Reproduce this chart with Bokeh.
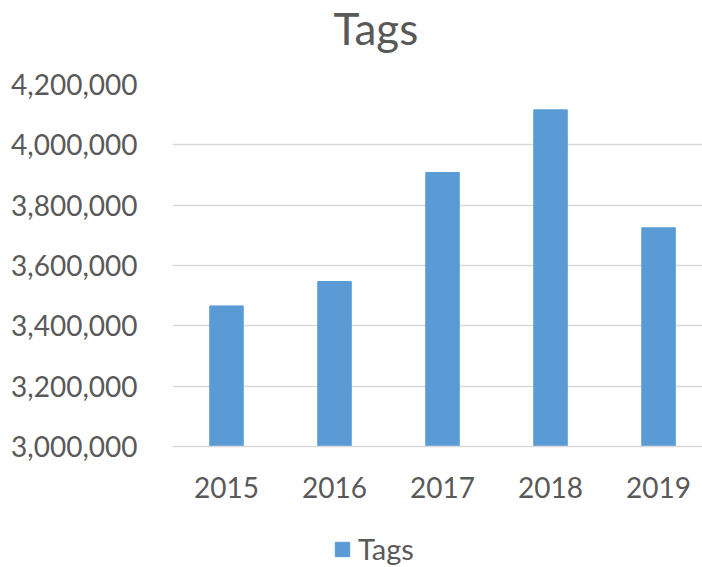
from bokeh.plotting import figure
from bokeh.layouts import column
from bokeh.models import (Range1d, FixedTicker, NumeralTickFormatter, Legend,
                          LegendItem, ColumnDataSource, Label)
from bokeh.embed import file_html
from bokeh.resources import INLINE

# ---- data ----
years = [2015, 2016, 2017, 2018, 2019]
year_labels = ["2015", "2016", "2017", "2018", "2019"]
tags = [3466000, 3547000, 3908000, 4116000, 3725000]
y_ticks = [3000000, 3200000, 3400000, 3600000, 3800000, 4000000, 4200000]
series_name = "Tags"
chart_title = "Tags"

FONT = "Lato"
TEXT = "#595959"
BAR = "#5B9BD5"
GRID = "#d9d9d9"
W = 702


def blank(height):
    f = figure(width=W, height=height, output_backend="svg",
               toolbar_location=None, x_axis_location=None,
               y_axis_location=None, x_range=Range1d(0, W),
               y_range=Range1d(0, height), min_border=0, frame_align=False)
    f.outline_line_color = None
    f.grid.grid_line_color = None
    f.background_fill_color = "white"
    f.border_fill_color = "white"
    return f


src = ColumnDataSource(dict(x=years, top=tags))

# ---- title strip ----
t = blank(60)
t.add_layout(Label(x=333, y=33, text=chart_title, text_font=FONT,
                   text_font_size="44px", text_color=TEXT,
                   text_baseline="alphabetic", text_align="left"))

# ---- main chart ----
p = figure(width=W, height=460, output_backend="svg", toolbar_location=None,
           x_range=Range1d(2014.5, 2019.407),
           y_range=Range1d(y_ticks[0], y_ticks[-1]),
           min_border_left=172, min_border_right=0, min_border_top=24,
           min_border_bottom=74, frame_align=False)

r = p.vbar(x="x", top="top", bottom=y_ticks[0], width=0.31, source=src,
           fill_color=BAR, line_color=BAR)

p.outline_line_color = None
p.background_fill_color = "white"
p.border_fill_color = "white"

p.xgrid.grid_line_color = None
p.ygrid.grid_line_color = GRID
p.ygrid.grid_line_width = 1.5
p.ygrid.ticker = FixedTicker(ticks=y_ticks)

p.yaxis.ticker = FixedTicker(ticks=y_ticks)
p.yaxis.formatter = NumeralTickFormatter(format="0,0")
p.yaxis.axis_line_color = None
p.yaxis.major_tick_line_color = None
p.yaxis.minor_tick_line_color = None
p.yaxis.major_label_text_font = FONT
p.yaxis.major_label_text_font_size = "28px"
p.yaxis.major_label_text_color = TEXT
p.yaxis.major_label_standoff = 29

p.xaxis.ticker = FixedTicker(ticks=years)
p.xaxis.major_label_overrides = {y: l for y, l in zip(years, year_labels)}
p.xaxis.axis_line_color = GRID
p.xaxis.axis_line_width = 1.5
p.xaxis.major_tick_line_color = None
p.xaxis.minor_tick_line_color = None
p.xaxis.major_label_text_font = FONT
p.xaxis.major_label_text_font_size = "28px"
p.xaxis.major_label_text_color = TEXT
p.xaxis.major_label_standoff = 24

# ---- legend strip ----
lg = blank(47)
# hidden twin of the bar series, used only to draw the legend swatch
lr = lg.vbar(x="x", top="top", width=0.31, source=src,
             fill_color=BAR, line_color=BAR, visible=False)
legend = Legend(items=[LegendItem(label=series_name, renderers=[lr])],
                orientation="horizontal", location=(333, 1),
                border_line_color=None, background_fill_alpha=0,
                padding=0, margin=0, glyph_width=18, glyph_height=18,
                label_text_font=FONT, label_text_font_size="29px",
                label_text_color=TEXT, label_standoff=7)
lg.add_layout(legend, "center")

layout = column(t, p, lg, spacing=0)
open("out.html", "w").write(file_html(layout, INLINE))
